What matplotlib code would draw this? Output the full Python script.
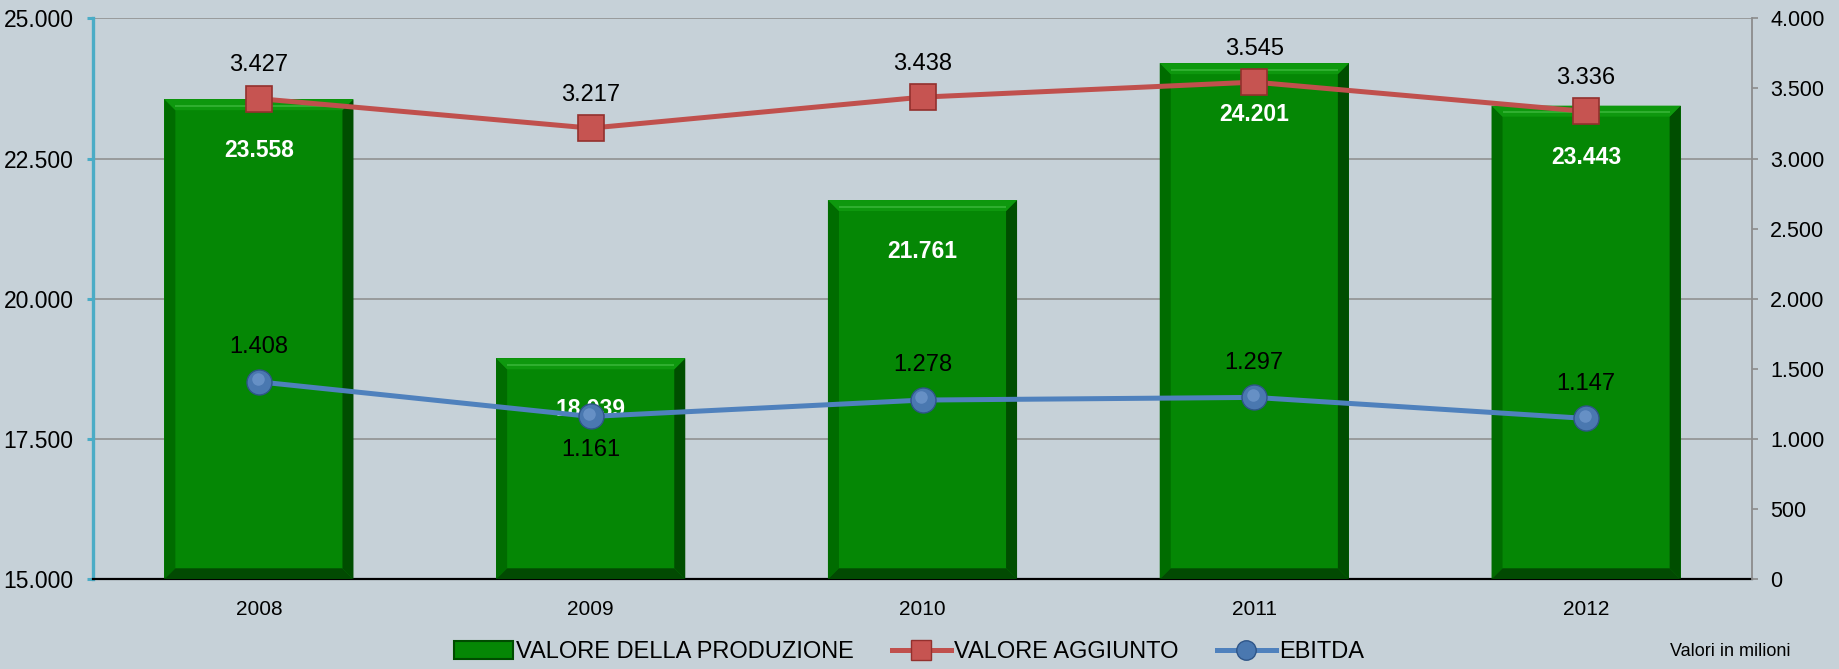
import numpy as np
import matplotlib
matplotlib.use('Agg')
import matplotlib.pyplot as plt
from matplotlib.patches import Polygon, Patch
from matplotlib.lines import Line2D
from matplotlib.ticker import FuncFormatter

# data (valori in milioni)
years = ['2008', '2009', '2010', '2011', '2012']
produzione = [23558, 18939, 21761, 24201, 23443]
aggiunto = [3427, 3217, 3438, 3545, 3336]
ebitda = [1408, 1161, 1278, 1297, 1147]
ebitda_label_below = [False, True, False, False, False]

left_ticks = [15000, 17500, 20000, 22500, 25000]
right_ticks = [0, 500, 1000, 1500, 2000, 2500, 3000, 3500, 4000]

bg = '#C6D1D8'
green = '#058705'
red = '#C0504D'
blue = '#4F81BD'

plt.rcParams['font.family'] = ['Liberation Sans', 'DejaVu Sans']


def it_fmt(v, pos=None):
    # italian thousands separator
    return '{:,.0f}'.format(v).replace(',', '.')


W, H = 1839, 669
fig = plt.figure(figsize=(W / 100, H / 100), dpi=100, facecolor=bg)
ax_l, ax_r, ax_t, ax_b = 93, 1752, 18.3, 579.3
ax1 = fig.add_axes([ax_l / W, 1 - ax_b / H, (ax_r - ax_l) / W, (ax_b - ax_t) / H])
ax1.set_facecolor(bg)

x = np.arange(len(years))
bw = 0.57
ax1.set_xlim(-0.5, len(years) - 0.5)
ax1.set_ylim(15000, 25000)
ax1.set_axisbelow(True)
ax1.yaxis.grid(True, color='#8C8C8C', linewidth=1.1)

bars = ax1.bar(x, np.array(produzione) - 15000, bottom=15000, width=bw,
               color=green, edgecolor='none', zorder=2)

# bevel look for the bars
px_x = (ax_r - ax_l) / len(years)
px_y = (ax_b - ax_t) / 10000
bev = 11
bx, by = bev / px_x, bev / px_y
for xi, v in zip(x, produzione):
    x0, x1, y0, y1 = xi - bw / 2, xi + bw / 2, 15000, v
    ax1.add_patch(Polygon([(x0, y0), (x0 + bx, y0 + by), (x0 + bx, y1 - by), (x0, y1)],
                          closed=True, color='#006C00', lw=0, zorder=3))
    ax1.add_patch(Polygon([(x1, y0), (x1, y1), (x1 - bx, y1 - by), (x1 - bx, y0 + by)],
                          closed=True, color='#004E00', lw=0, zorder=3))
    ax1.add_patch(Polygon([(x0, y1), (x1, y1), (x1 - bx, y1 - by), (x0 + bx, y1 - by)],
                          closed=True, color='#0E980E', lw=0, zorder=3))
    ax1.add_patch(Polygon([(x0, y0), (x1, y0), (x1 - bx, y0 + by), (x0 + bx, y0 + by)],
                          closed=True, color='#024A02', lw=0, zorder=3))
    ax1.plot([x0 + bx, x1 - bx], [y1 - by * 0.6, y1 - by * 0.6], color='#33B233',
             lw=1.3, zorder=4, solid_capstyle='butt')
    ax1.annotate(it_fmt(v), (xi, v), xytext=(0, -37), textcoords='offset points',
                 ha='center', va='center', color='white', fontsize=16.5,
                 fontweight='bold', zorder=5)

ax1.set_yticks(left_ticks)
ax1.yaxis.set_major_formatter(FuncFormatter(it_fmt))
ax1.set_xticks(x)
ax1.set_xticklabels(years)
ax1.tick_params(axis='x', length=0, pad=15, labelsize=15)
ax1.tick_params(axis='y', direction='out', length=4, width=2.2, color='#4BACC6',
                pad=10, labelsize=16.5)
ax1.spines['left'].set_color('#4BACC6')
ax1.spines['left'].set_linewidth(2.4)
ax1.spines['bottom'].set_color('black')
ax1.spines['bottom'].set_linewidth(1.6)
ax1.spines['top'].set_visible(False)
ax1.spines['right'].set_visible(False)

ax2 = ax1.twinx()
ax2.set_ylim(0, 4000)
ax2.set_yticks(right_ticks)
ax2.yaxis.set_major_formatter(FuncFormatter(it_fmt))
ax2.tick_params(axis='y', direction='out', length=4, width=1.2, color='#8C8C8C',
                pad=9, labelsize=15.5)
for s in ['left', 'top', 'bottom']:
    ax2.spines[s].set_visible(False)
ax2.spines['right'].set_color('#8C8C8C')
ax2.spines['right'].set_linewidth(1.3)

ax2.plot(x, aggiunto, color=red, lw=3.6, marker='s', markersize=19,
         markerfacecolor='#C65451', markeredgecolor='#93302D', markeredgewidth=1.2,
         zorder=3)
ax2.plot(x, ebitda, color=blue, lw=3.6, marker='o', markersize=18,
         markerfacecolor='#4A78B0', markeredgecolor='#2E5588', markeredgewidth=1.0,
         zorder=3)
ax2.plot(np.array(x) - 0.004, np.array(ebitda) + 20, linestyle='none', marker='o',
         markersize=9, markerfacecolor='#6E97CB', markeredgewidth=0, alpha=0.8,
         zorder=4)

for xi, v in zip(x, aggiunto):
    ax2.annotate(it_fmt(v), (xi, v), xytext=(0, 24), textcoords='offset points',
                 ha='center', va='center', fontsize=17, color='black', zorder=6)
for xi, v, below in zip(x, ebitda, ebitda_label_below):
    ax2.annotate(it_fmt(v), (xi, v), xytext=(0, -24 if below else 25),
                 textcoords='offset points', ha='center', va='center',
                 fontsize=17, color='black', zorder=6)

handles = [
    Patch(facecolor=green, edgecolor='#004C00', linewidth=1.5),
    Line2D([0], [0], color=red, lw=3.6, marker='s', markersize=15,
           markerfacecolor='#C65451', markeredgecolor='#93302D'),
    Line2D([0], [0], color=blue, lw=3.6, marker='o', markersize=14,
           markerfacecolor='#4A78B0', markeredgecolor='#2E5588'),
]
labels = ['VALORE DELLA PRODUZIONE', 'VALORE AGGIUNTO', 'EBITDA']
fig.legend(handles, labels, loc='center', bbox_to_anchor=(909 / W, 1 - 652 / H),
           ncol=3, frameon=False, fontsize=17, handlelength=2.5, handleheight=0.8,
           handletextpad=0.15, columnspacing=1.6)

fig.text(1791 / W, 1 - 652 / H, 'Valori in milioni', ha='right', va='center',
         fontsize=13)

fig.savefig('out.png', dpi=100, facecolor=bg)
